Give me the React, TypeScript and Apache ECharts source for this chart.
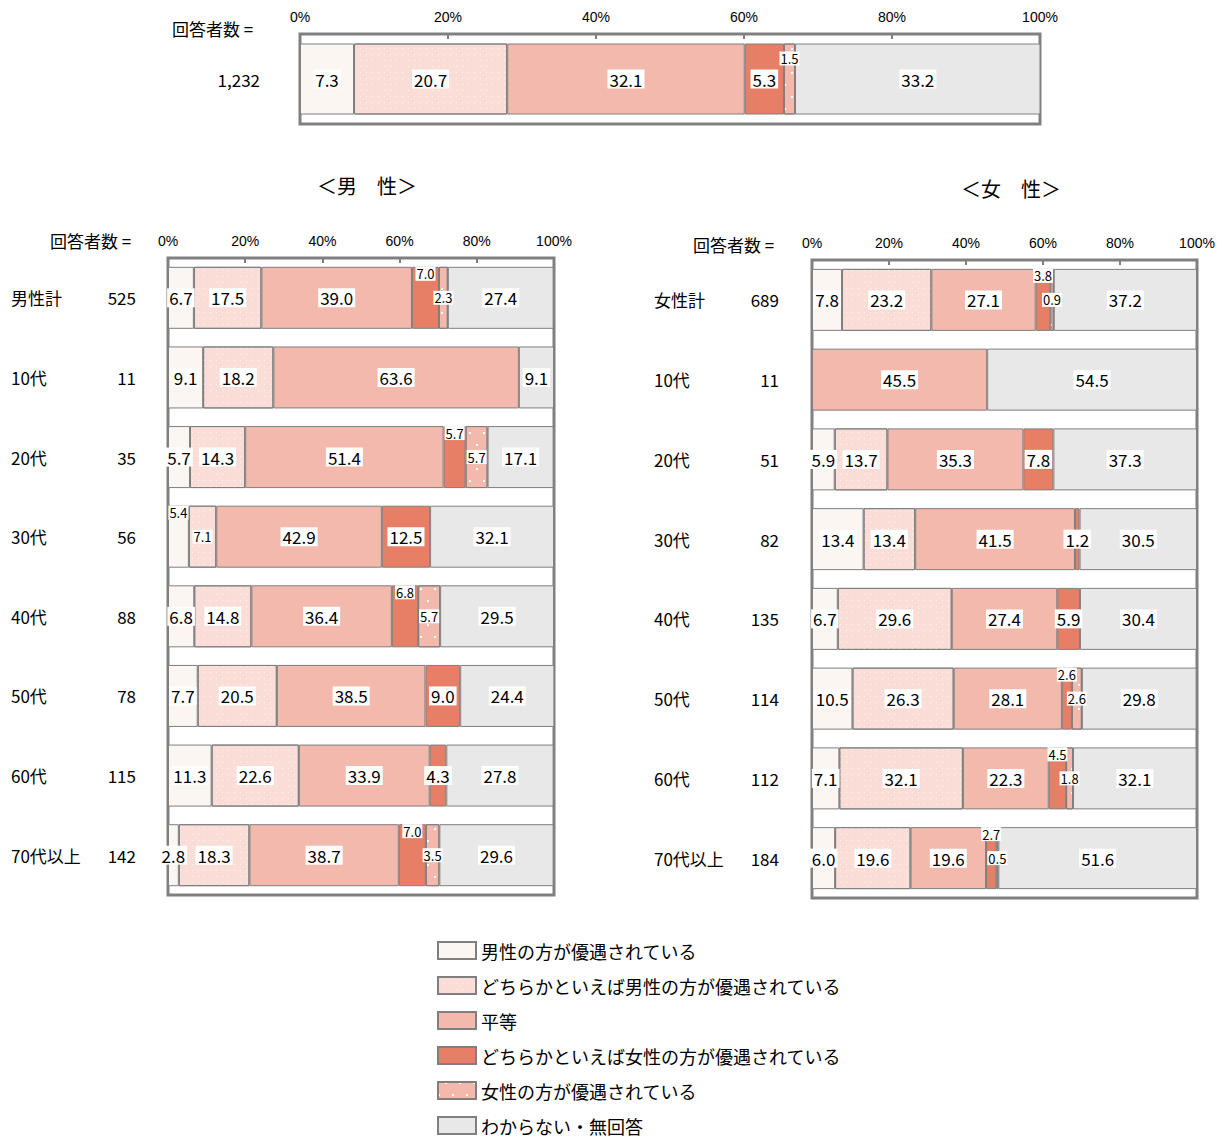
import React, { useEffect, useRef } from "react";
import * as echarts from "echarts";

// Answer categories (legend order, stacking order left to right)
const answers = [
  "男性の方が優遇されている",
  "どちらかといえば男性の方が優遇されている",
  "平等",
  "どちらかといえば女性の方が優遇されている",
  "女性の方が優遇されている",
  "わからない・無回答",
];

const tickValues = [0, 20, 40, 60, 80, 100];

// Overall respondents
const totalN = ["1,232"];
const totalMaleFavored = [7.3];
const totalRatherMale = [20.7];
const totalEqual = [32.1];
const totalRatherFemale = [5.3];
const totalFemaleFavored = [1.5];
const totalUnknown = [33.2];

// Men by age
const maleRows = ["男性計", "10代", "20代", "30代", "40代", "50代", "60代", "70代以上"];
const maleN = ["525", "11", "35", "56", "88", "78", "115", "142"];
const maleMaleFavored = [6.7, 9.1, 5.7, 5.4, 6.8, 7.7, 11.3, 2.8];
const maleRatherMale = [17.5, 18.2, 14.3, 7.1, 14.8, 20.5, 22.6, 18.3];
const maleEqual = [39.0, 63.6, 51.4, 42.9, 36.4, 38.5, 33.9, 38.7];
const maleRatherFemale = [7.0, 0, 5.7, 12.5, 6.8, 9.0, 4.3, 7.0];
const maleFemaleFavored = [2.3, 0, 5.7, 0, 5.7, 0, 0, 3.5];
const maleUnknown = [27.4, 9.1, 17.1, 32.1, 29.5, 24.4, 27.8, 29.6];

// Women by age
const femaleRows = ["女性計", "10代", "20代", "30代", "40代", "50代", "60代", "70代以上"];
const femaleN = ["689", "11", "51", "82", "135", "114", "112", "184"];
const femaleMaleFavored = [7.8, 0, 5.9, 13.4, 6.7, 10.5, 7.1, 6.0];
const femaleRatherMale = [23.2, 0, 13.7, 13.4, 29.6, 26.3, 32.1, 19.6];
const femaleEqual = [27.1, 45.5, 35.3, 41.5, 27.4, 28.1, 22.3, 19.6];
const femaleRatherFemale = [3.8, 0, 7.8, 1.2, 5.9, 2.6, 4.5, 2.7];
const femaleFemaleFavored = [0.9, 0, 0, 0, 0, 2.6, 1.8, 0.5];
const femaleUnknown = [37.2, 54.5, 37.3, 30.5, 30.4, 29.8, 32.1, 51.6];

const JP = '"Noto Sans CJK JP", "Noto Sans", sans-serif';
const NUM = '"Liberation Sans Narrow", "Liberation Sans", Arial, sans-serif';

const colors = ["#FCF6F3", "#F9DDD6", "#F3B9AD", "#E67F65", "#F3B9AD", "#E8E8E8"];
const decals: any[] = [
  null,
  {
    symbol: "rect",
    symbolSize: 1,
    color: "rgba(255,255,255,0.75)",
    dashArrayX: [1, 5],
    dashArrayY: [1, 5],
  },
  null,
  null,
  {
    symbol: "rect",
    symbolSize: 1,
    color: "#ffffff",
    dashArrayX: [
      [2, 12],
      [0, 7, 2, 5],
    ],
    dashArrayY: [2, 10],
  },
  null,
];

// Label placement overrides for crowded segments: group:row:series
const labelTweaks: Record<string, string> = {
  "total:0:3": "normal",
  "total:0:4": "raised",
  "male:3:0": "raised",
  "male:3:1": "small",
};

type Group = {
  key: string;
  rows: string[];
  n: string[];
  values: number[][];
  grid: { left: number; top: number; width: number; height: number };
  barWidth: number;
  raiseDist: number;
  labelMargin: number;
};

const groups: Group[] = [
  {
    key: "total",
    rows: totalN,
    n: totalN,
    values: [totalMaleFavored, totalRatherMale, totalEqual, totalRatherFemale, totalFemaleFavored, totalUnknown],
    grid: { left: 300, top: 34, width: 740, height: 90 },
    barWidth: 71,
    raiseDist: 8,
    labelMargin: 40,
  },
  {
    key: "male",
    rows: maleRows,
    n: maleN,
    values: [maleMaleFavored, maleRatherMale, maleEqual, maleRatherFemale, maleFemaleFavored, maleUnknown],
    grid: { left: 168, top: 258, width: 386, height: 637 },
    barWidth: 62,
    raiseDist: 0,
    labelMargin: 32,
  },
  {
    key: "female",
    rows: femaleRows,
    n: femaleN,
    values: [femaleMaleFavored, femaleRatherMale, femaleEqual, femaleRatherFemale, femaleFemaleFavored, femaleUnknown],
    grid: { left: 812, top: 260, width: 385, height: 638 },
    barWidth: 62,
    raiseDist: 0,
    labelMargin: 33,
  },
];

function labelMode(g: Group, row: number, s: number): string {
  const t = labelTweaks[`${g.key}:${row}:${s}`];
  if (t) return t;
  if (s === 4) return "small";
  if (s === 3 && g.values[4][row] > 0) return "raised";
  return "normal";
}

function buildOption() {
  const grid: any[] = [];
  const xAxis: any[] = [];
  const yAxis: any[] = [];
  const series: any[] = [];

  groups.forEach((g, gi) => {
    grid.push({
      ...g.grid,
      show: true,
      borderColor: "#808080",
      borderWidth: 3,
      backgroundColor: "#ffffff",
    });
    xAxis.push({
      gridIndex: gi,
      type: "value",
      min: tickValues[0],
      max: tickValues[tickValues.length - 1],
      interval: tickValues[1] - tickValues[0],
      position: "top",
      axisLine: { show: false },
      splitLine: { show: false },
      axisTick: { show: true, inside: true, length: 5, lineStyle: { color: "#808080", width: 2 } },
      axisLabel: {
        formatter: "{value}%",
        fontSize: 14,
        color: "#000",
        fontFamily: NUM,
        margin: 10,
      },
    });
    yAxis.push({
      gridIndex: gi,
      type: "category",
      data: g.rows,
      inverse: true,
      axisLine: { show: false },
      axisTick: { show: false },
      axisLabel:
        g.key === "total"
          ? { color: "#000", fontSize: 17, fontFamily: JP, margin: g.labelMargin }
          : {
              margin: g.labelMargin,
              formatter: (v: string, i: number) => `{a|${v}}{b|${g.n[i]}}`,
              rich: {
                a: { width: 95, align: "left", fontSize: 17, fontFamily: JP, color: "#000" },
                b: { width: 30, align: "right", fontSize: 17, fontFamily: JP, color: "#000" },
              },
            },
    });

    g.values.forEach((vals, si) => {
      series.push({
        name: answers[si],
        type: "bar",
        stack: g.key,
        xAxisIndex: gi,
        yAxisIndex: gi,
        barWidth: g.barWidth,
        itemStyle: {
          color: colors[si],
          borderColor: "#7f7f7f",
          borderWidth: 1,
          decal: decals[si] || undefined,
        },
        data: vals.map((v, ri) => {
          if (!v) return { value: 0, label: { show: false }, itemStyle: { borderWidth: 0 } };
          const mode = labelMode(g, ri, si);
          const small = mode !== "normal";
          return {
            value: v,
            label: {
              show: true,
              position: mode === "raised" ? "insideTop" : "inside",
              distance: mode === "raised" ? g.raiseDist : 5,
              formatter: v.toFixed(1),
              fontSize: small ? 13 : 17,
              fontFamily: JP,
              color: "#000",
              backgroundColor: "#ffffff",
              padding: small ? [0, 1] : [0, 2],
              lineHeight: small ? 14 : 19,
            },
          };
        }),
      });
    });
  });

  const textStyle = { fill: "#000", fontFamily: JP };

  return {
    animation: false,
    backgroundColor: "#ffffff",
    grid,
    xAxis,
    yAxis,
    series,
    legend: {
      data: answers,
      orient: "vertical",
      left: 437,
      top: 941,
      height: 400,
      padding: 0,
      icon: "rect",
      itemWidth: 38,
      itemHeight: 17,
      itemGap: 16,
      selectedMode: false,
      textStyle: { fontSize: 18, color: "#000", fontFamily: JP, lineHeight: 17 },
    },
    graphic: [
      { type: "text", left: 172, top: 20, style: { ...textStyle, text: "回答者数 =", fontSize: 17 } },
      { type: "text", left: 50, top: 232, style: { ...textStyle, text: "回答者数 =", fontSize: 17 } },
      { type: "text", left: 693, top: 236, style: { ...textStyle, text: "回答者数 =", fontSize: 17 } },
      { type: "text", left: 317, top: 175, style: { ...textStyle, text: "＜男　性＞", fontSize: 20 } },
      { type: "text", left: 961, top: 178, style: { ...textStyle, text: "＜女　性＞", fontSize: 20 } },
    ],
  };
}

export default function App() {
  const ref = useRef<HTMLDivElement>(null);
  useEffect(() => {
    if (!ref.current) return;
    const chart = echarts.init(ref.current, undefined, { renderer: "svg" });
    chart.setOption(buildOption() as any);
    return () => chart.dispose();
  }, []);
  return (
    <div
      ref={ref}
      style={{ position: "fixed", left: 0, top: 0, width: 1226, height: 1137, background: "#fff" }}
    />
  );
}
